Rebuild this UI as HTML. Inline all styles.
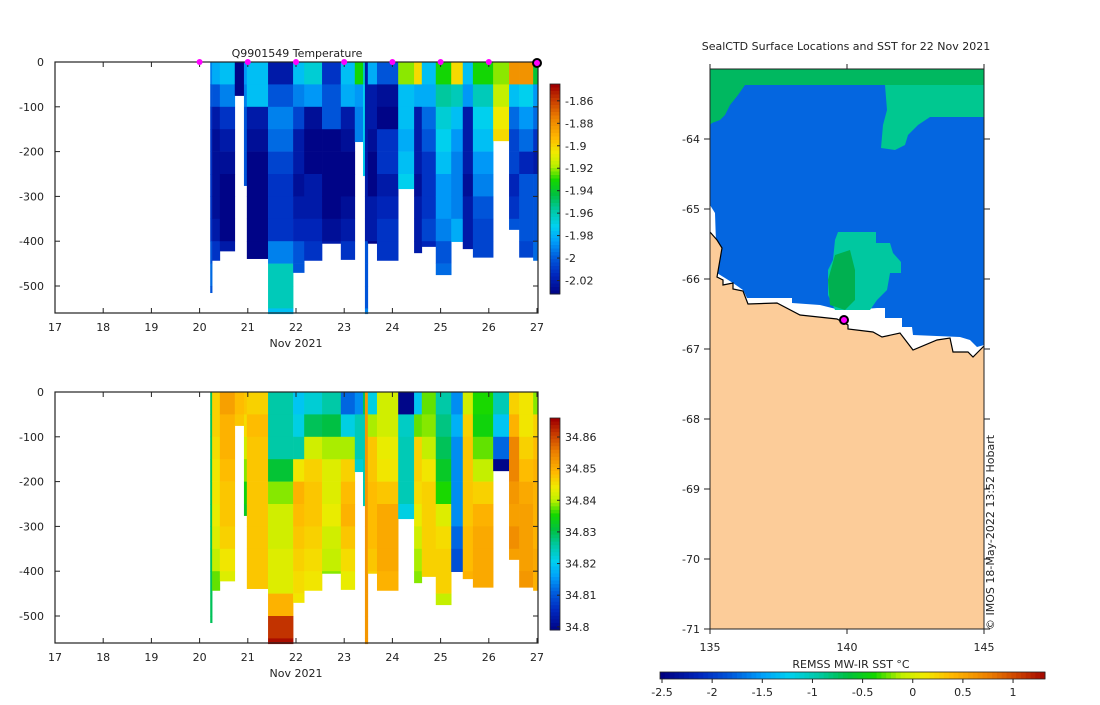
<!DOCTYPE html>
<html><head><meta charset="utf-8"><style>
body{margin:0;background:#fff;width:1100px;height:700px;overflow:hidden}
svg text{font-family:"DejaVu Sans","Liberation Sans",sans-serif;font-size:11px;fill:#222}
</style></head><body>
<svg id="s" width="1100" height="700" xmlns="http://www.w3.org/2000/svg"></svg>
<script>
const tStart=[20.22,20.26,20.42,20.73,20.92,20.98,21.42,21.94,22.17,22.54,22.93,23.22,23.39,23.43,23.49,23.68,24.12,24.45,24.61,24.90,25.22,25.46,25.67,26.09,26.42,26.63,26.92];
const tEnd=[20.26,20.42,20.73,20.92,20.98,21.42,21.94,22.17,22.54,22.93,23.22,23.39,23.43,23.49,23.68,24.12,24.45,24.61,24.90,25.22,25.46,25.67,26.09,26.42,26.63,26.92,27.02];
const maxDepth=[515,443,422,75,276,439,562,470,443,405,441,178,254,562,405,443,283,426,412,475,401,417,436,176,374,436,443];
const temp=[
[-1.99,-2.0,-2.01,-2.01,-2.01,-2.01,-2.01,-2.01,-2.0,-1.995,-2.0,-2.0],
[-1.98,-2.0,-2.02,-2.025,-2.025,-2.025,-2.025,-2.02,-2.01,-1.99,-1.99],
[-1.975,-1.99,-2.01,-2.02,-2.025,-2.03,-2.03,-2.03,-2.02,-2.015],
[-2.03,-2.03],
[-1.985,-1.99,-2.0,-2.0,-2.0,-2.0],
[-1.975,-1.975,-2.02,-2.025,-2.03,-2.03,-2.03,-2.03,-2.03,-2.025],
[-2.02,-2.0,-1.99,-1.995,-2.005,-2.01,-2.01,-2.01,-1.99,-1.96,-1.96,-1.975],
[-1.975,-1.99,-2.005,-2.02,-2.02,-2.025,-2.02,-2.015,-2.0,-2.0],
[-1.965,-1.985,-2.025,-2.03,-2.03,-2.02,-2.02,-2.015,-2.01,-2.0],
[-2.01,-2.0,-2.0,-2.03,-2.03,-2.03,-2.03,-2.025,-2.02],
[-1.975,-1.98,-2.02,-2.025,-2.03,-2.03,-2.025,-2.02,-2.01],
[-1.93,-1.985,-1.99,-1.99],
[-1.96,-1.97,-1.97,-1.97,-1.97,-1.97],
[-2.02,-2.02,-2.02,-2.02,-2.02,-2.02,-2.02,-2.02,-2.0,-2.0,-2.0,-1.99],
[-1.98,-2.02,-2.02,-2.025,-2.03,-2.03,-2.02,-2.02,-2.03],
[-2.0,-2.025,-2.03,-2.01,-2.01,-2.02,-2.015,-2.01,-2.01],
[-1.92,-1.975,-1.975,-1.98,-1.975,-1.97],
[-1.9,-1.98,-2.02,-2.02,-2.02,-2.025,-2.02,-2.02,-2.02],
[-1.975,-1.98,-1.995,-2.0,-2.01,-2.01,-2.01,-2.005,-2.015],
[-1.93,-1.955,-1.965,-1.97,-1.975,-1.985,-1.985,-1.99,-2.0,-1.995],
[-1.9,-1.96,-1.975,-1.985,-1.99,-1.99,-1.99,-1.98,-1.98],
[-1.975,-1.985,-2.02,-2.02,-2.02,-2.025,-2.02,-2.02,-2.02],
[-1.93,-1.96,-1.97,-1.975,-1.985,-1.99,-2.0,-2.005,-2.005],
[-1.92,-1.915,-1.905,-1.9],
[-1.88,-1.975,-1.995,-2.005,-2.005,-2.015,-2.01,-2.0],
[-1.88,-1.97,-1.985,-1.995,-2.015,-2.0,-2.0,-2.0,-2.005],
[-1.94,-1.985,-1.995,-2.01,-2.02,-2.0,-2.0,-2.0,-1.995]];
const salt=[
[34.83,34.83,34.83,34.83,34.83,34.83,34.83,34.83,34.83,34.83,34.83],
[34.847,34.847,34.846,34.845,34.845,34.844,34.843,34.841,34.838,34.835],
[34.852,34.85,34.85,34.849,34.848,34.848,34.847,34.845,34.843],
[34.849,34.848],
[34.848,34.846,34.842,34.839,34.835,34.833],
[34.847,34.849,34.848,34.848,34.848,34.848,34.848,34.848,34.848],
[34.826,34.826,34.826,34.832,34.839,34.842,34.842,34.843,34.843,34.85,34.862,34.865],
[34.82,34.822,34.826,34.845,34.85,34.849,34.848,34.847,34.846,34.845],
[34.823,34.83,34.842,34.847,34.848,34.848,34.847,34.846,34.845],
[34.826,34.831,34.84,34.843,34.843,34.844,34.842,34.841,34.839],
[34.812,34.822,34.84,34.847,34.849,34.85,34.848,34.846,34.844],
[34.815,34.825,34.825,34.823],
[34.83,34.825,34.825,34.825,34.825,34.825],
[34.853,34.853,34.853,34.853,34.853,34.853,34.853,34.853,34.853,34.853,34.853,34.853],
[34.822,34.84,34.848,34.848,34.849,34.849,34.849,34.848,34.847],
[34.842,34.842,34.844,34.845,34.848,34.851,34.851,34.851,34.85],
[34.8,34.824,34.825,34.825,34.825,34.822],
[34.82,34.838,34.847,34.847,34.846,34.844,34.842,34.84,34.839],
[34.838,34.839,34.841,34.845,34.847,34.847,34.847,34.847,34.847],
[34.826,34.828,34.83,34.833,34.836,34.843,34.846,34.847,34.847,34.841],
[34.815,34.818,34.815,34.815,34.815,34.815,34.812,34.81,34.808],
[34.842,34.847,34.848,34.848,34.848,34.848,34.849,34.849,34.85],
[34.836,34.835,34.838,34.841,34.847,34.85,34.851,34.851,34.851],
[34.825,34.82,34.812,34.8],
[34.847,34.85,34.855,34.855,34.853,34.852,34.854,34.852],
[34.845,34.845,34.847,34.849,34.851,34.852,34.852,34.852,34.853],
[34.839,34.847,34.849,34.85,34.85,34.85,34.85,34.851,34.85]];
const binSize=50;
const dayTicks=[17,18,19,20,21,22,23,24,25,26,27];
const depthTicks=[0,-100,-200,-300,-400,-500];
const surfDays=[20,21,22,23,24,25,26];
const tempTicks=[-1.86,-1.88,-1.9,-1.92,-1.94,-1.96,-1.98,-2,-2.02];
const saltTicks=[34.86,34.85,34.84,34.83,34.82,34.81,34.8];
const latTicks=[-64,-65,-66,-67,-68,-69,-70,-71];
const lonTicks=[135,140,145];
const sstTicks=[-2.5,-2,-1.5,-1,-0.5,0,0.5,1];
const NS="http://www.w3.org/2000/svg";
const S=document.getElementById('s');
function el(tag,attrs,parent){const e=document.createElementNS(NS,tag);for(const k in attrs)e.setAttribute(k,attrs[k]);(parent||S).appendChild(e);return e;}
const stops=[[0,[0,0,128]],[0.1,[0,40,190]],[0.18,[0,90,220]],[0.26,[0,160,250]],[0.33,[0,208,240]],[0.41,[0,200,160]],[0.48,[0,192,64]],[0.55,[20,215,0]],[0.62,[190,240,0]],[0.68,[240,235,0]],[0.75,[255,185,0]],[0.85,[235,125,0]],[0.93,[200,60,0]],[1,[160,0,0]]];
function cmap(t){t=Math.max(0,Math.min(1,t));for(let i=1;i<stops.length;i++){if(t<=stops[i][0]){const a=stops[i-1],b=stops[i],f=(t-a[0])/(b[0]-a[0]);const c=a[1].map((v,j)=>Math.round(v+(b[1][j]-v)*f));return `rgb(${c[0]},${c[1]},${c[2]})`;}}return 'rgb(160,0,0)';}
const xDay=d=>55+(d-17)*48.2;

function profilePanel(name,top,bottom,vals,vmin,vmax,cbTop,cbBot,ticks,title){
  const yD=d=>top+d*0.448;
  const g=el('g',{});
  
  
  for(let i=0;i<tStart.length;i++){
    const arr=vals[i];
    for(let b=0;b<arr.length;b++){
      const d0=b*binSize;const d1=Math.min((b+1)*binSize,maxDepth[i]);
      if(d0>=maxDepth[i])break;
      const r=el('rect',{x:xDay(tStart[i]),y:yD(d0),width:xDay(tEnd[i])-xDay(tStart[i])+0.3,height:yD(d1)-yD(d0)+0.3,fill:cmap((arr[b]-vmin)/(vmax-vmin))},g);
      
      
    }
  }
  el('rect',{x:55,y:top,width:483,height:bottom-top,fill:'none',stroke:'#222','stroke-width':1.2});
  dayTicks.forEach(d=>{const x=xDay(d);el('line',{x1:x,x2:x,y1:bottom,y2:bottom-5,stroke:'#222'});el('line',{x1:x,x2:x,y1:top,y2:top+5,stroke:'#222'});const t=el('text',{x:x,y:bottom+18,'text-anchor':'middle'});t.textContent=d;});
  depthTicks.forEach(v=>{const y=yD(-v);el('line',{x1:55,x2:60,y1:y,y2:y,stroke:'#222'});el('line',{x1:538,x2:533,y1:y,y2:y,stroke:'#222'});const t=el('text',{x:44,y:y+4,'text-anchor':'end'});t.textContent=v;});
  const xl=el('text',{x:296,y:bottom+34,'text-anchor':'middle'});xl.textContent='Nov 2021';
  if(title){const tt=el('text',{x:297,y:top-5,'text-anchor':'middle'});tt.textContent=title;}
  const cb=el('g',{});
  const n=60;for(let k=0;k<n;k++){const y=cbTop+(cbBot-cbTop)*k/n;el('rect',{x:550,y:y,width:10,height:(cbBot-cbTop)/n+0.5,fill:cmap(1-k/n)},cb);}
  el('rect',{x:550,y:cbTop,width:10,height:cbBot-cbTop,fill:'none',stroke:'#222','stroke-width':0.8},cb);
  ticks.forEach(v=>{const y=cbTop+(vmax-v)/(vmax-vmin)*(cbBot-cbTop);el('line',{x1:560,x2:557,y1:y,y2:y,stroke:'#222'},cb);const t=el('text',{x:565,y:y+4},cb);t.textContent=v;});
  return yD;
}
profilePanel('temperature-panel',62,313,temp,-2.032,-1.845,84,294,tempTicks,'Q9901549  Temperature');
profilePanel('salinity-panel',392,643,salt,34.799,34.866,418,630,saltTicks,null);
surfDays.forEach(d=>{const c=el('circle',{cx:xDay(d),cy:62,r:3,fill:'#ff00ff'});});
{const c=el('circle',{cx:xDay(27),cy:63,r:4,fill:'#ff00ff',stroke:'#000','stroke-width':2});}

const mg=el('g',{});
el('polygon',{points:'710,69 984,69 984,345 977,347 970,340 960,337 913,335 912,327 902,327 902,318 885,318 885,308 877,308 853,310 840,310 820,305 792,303 792,298 747,298 743,290 733,283 717,273 715,213 710,205',fill:'#0466e0'},mg);
el('polygon',{points:'710,69 984,69 984,85 745,85 738,95 730,105 725,115 720,120 712,123 710,125',fill:'#00b860'},mg);
el('polygon',{points:'885,85 984,85 984,117 930,117 918,125 908,135 905,145 895,150 881,148 883,125 887,110',fill:'#00c890'},mg);
el('polygon',{points:'838,232 876,232 876,243 890,243 893,253 901,262 901,273 890,273 887,290 877,300 870,310 835,310 828,295 828,270 833,260 835,240',fill:'#00c8a0'},mg);
el('polygon',{points:'835,255 850,250 855,270 855,300 845,310 830,305 828,280',fill:'#00b050'},mg);
el('polygon',{points:'710,232 717,240 722,248 717,277 723,280 723,285 733,283 733,289 743,291 748,304 777,303 800,315 837,319 848,325 848,329 873,332 882,337 900,333 913,350 937,340 950,338 953,352 968,352 973,357 984,346 984,629 710,629',fill:'#fccc99',stroke:'none'},mg);
el('polyline',{points:'710,232 717,240 722,248 717,277 723,280 723,285 733,283 733,289 743,291 748,304 777,303 800,315 837,319 848,325 848,329 873,332 882,337 900,333 913,350 937,340 950,338 953,352 968,352 973,357 984,346',fill:'none',stroke:'#000','stroke-width':1.2},mg);
{const c=el('circle',{cx:844,cy:320,r:4,fill:'#ff00ff',stroke:'#000','stroke-width':2});}
el('rect',{x:710,y:69,width:274,height:560,fill:'none',stroke:'#222','stroke-width':1});
const mt=el('text',{x:846,y:50,'text-anchor':'middle'});mt.textContent='SealCTD Surface Locations and SST for 22 Nov 2021';
latTicks.forEach(v=>{const y=139+(-64-v)*70;el('line',{x1:710,x2:704,y1:y,y2:y,stroke:'#222'});el('line',{x1:984,x2:990,y1:y,y2:y,stroke:'#222'});const t=el('text',{x:700,y:y+4,'text-anchor':'end'});t.textContent=v;});
lonTicks.forEach(v=>{const x=710+(v-135)*27.4;el('line',{x1:x,x2:x,y1:629,y2:634,stroke:'#222'});el('line',{x1:x,x2:x,y1:69,y2:64,stroke:'#222'});const t=el('text',{x:x,y:651,'text-anchor':'middle'});t.textContent=v;});
const cp=el('text',{x:0,y:0,transform:'translate(994,630) rotate(-90)','font-size':'10'});cp.textContent='© IMOS 18-May-2022 13:52 Hobart';
const hb=el('g',{});
for(let k=0;k<80;k++){const x=660+385*k/80;el('rect',{x:x,y:672,width:385/80+0.5,height:7,fill:cmap(k/80)},hb);}
el('rect',{x:660,y:672,width:385,height:7,fill:'none',stroke:'#222','stroke-width':0.8},hb);
sstTicks.forEach(v=>{const x=662+(v+2.5)*100.3;el('line',{x1:x,x2:x,y1:679,y2:683,stroke:'#222'},hb);const t=el('text',{x:x,y:696,'text-anchor':'middle'},hb);t.textContent=v;});
const cl=el('text',{x:851,y:668,'text-anchor':'middle'});cl.textContent='REMSS MW-IR SST °C';
</script>
</body></html>
